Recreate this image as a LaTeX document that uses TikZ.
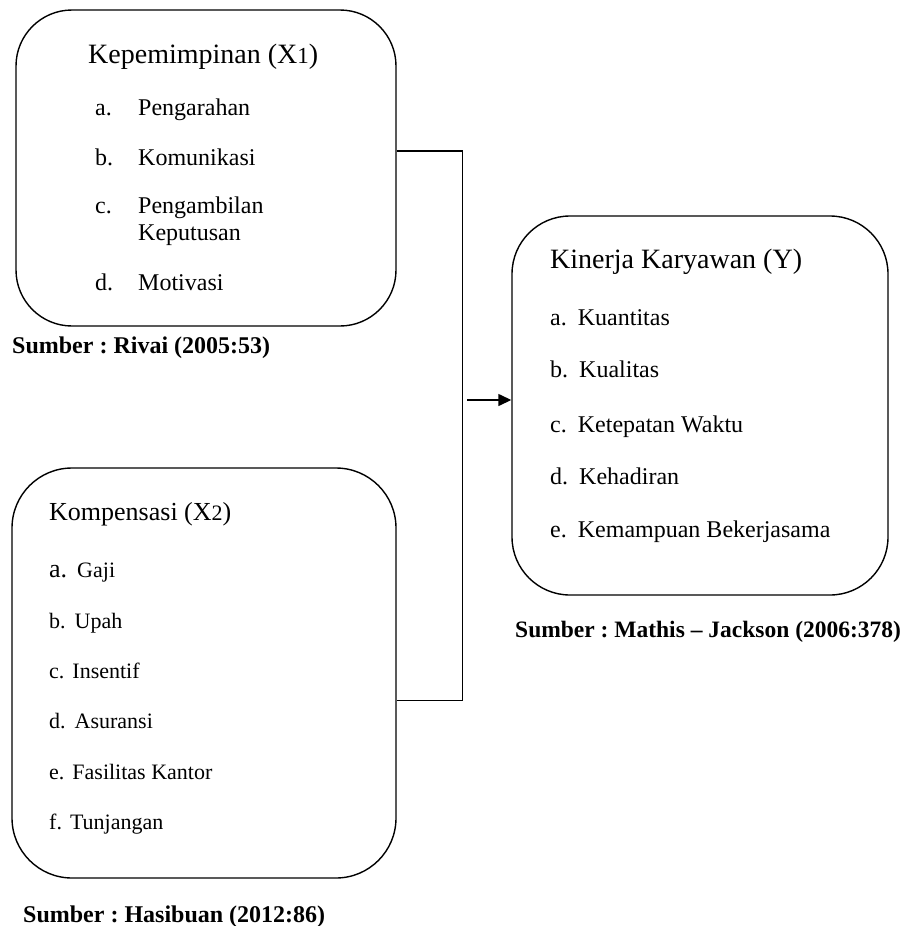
\documentclass[tikz,border=0pt]{standalone}
\usepackage{fontspec}
\setmainfont{Liberation Serif}
\usetikzlibrary{arrows.meta}
\newcommand{\fsz}[1]{\fontsize{#1}{#1}\selectfont}
\frenchspacing
\begin{document}
\begin{tikzpicture}[x=1pt,y=-1pt,
  boxst/.style={draw, line width=1.4pt, rounded corners=#1, inner sep=0pt},
  txt/.style={anchor=base west, inner sep=0pt, font=\fsz{24}},
  ttl/.style={anchor=base west, inner sep=0pt, font=\fsz{28}},
  src/.style={anchor=base west, inner sep=0pt, font=\fsz{24}\bfseries},
  conn/.style={line width=1.4pt}]
\useasboundingbox (0,0) rectangle (905,926);
% boxes
\node[boxst=56pt, minimum width=380pt, minimum height=316pt] (b1) at (206,168) {};
\node[boxst=60pt, minimum width=384pt, minimum height=410pt] (b2) at (204,673) {};
\node[boxst=58pt, minimum width=376pt, minimum height=379pt] (b3) at (700,405.5) {};
% box 1 texts
\node[ttl] (t1) at (88,63) {Kepemimpinan (X{\fsz{23}1})};
\node[txt] (l1a) at (95,115) {a.};
\node[txt] (i1a) at (138,115) {Pengarahan};
\node[txt] (l1b) at (95,165.5) {b.};
\node[txt] (i1b) at (138,165.5) {Komunikasi};
\node[txt] (l1c) at (95,213) {c.};
\node[txt] (i1c) at (138,213) {Pengambilan};
\node[txt] (i1c2) at (138,240.5) {Keputusan};
\node[txt] (l1d) at (95,290) {d.};
\node[txt] (i1d) at (138,290) {Motivasi};
\node[src] (s1) at (12,353) {Sumber : Rivai (2005:53)};
% box 2 texts
\node[ttl, font=\fsz{26}] (t2) at (49,520) {Kompensasi (X{\fsz{22}2})};
\node[txt, font=\fsz{22}] (i2a) at (49,577) {{\fsz{26}a.}\hspace{10pt}Gaji};
\node[txt, font=\fsz{22}] (i2b) at (49,628) {b.\hspace{9pt}Upah};
\node[txt, font=\fsz{22}] (i2c) at (49,678) {c.\hspace{8pt}Insentif};
\node[txt, font=\fsz{22}] (i2d) at (49,728) {d.\hspace{9pt}Asuransi};
\node[txt, font=\fsz{22}] (i2e) at (49,779) {e.\hspace{8pt}Fasilitas Kantor};
\node[txt, font=\fsz{22}] (i2f) at (49,829) {f.\hspace{8pt}Tunjangan};
\node[src] (s2) at (23,922) {Sumber : Hasibuan (2012:86)};
% box 3 texts
\node[ttl] (t3) at (550,268) {Kinerja Karyawan (Y)};
\node[txt] (i3a) at (550,325) {a.\hspace{11pt}Kuantitas};
\node[txt] (i3b) at (550,377) {b.\hspace{11pt}Kualitas};
\node[txt] (i3c) at (550,432) {c.\hspace{11pt}Ketepatan Waktu};
\node[txt] (i3d) at (550,484) {d.\hspace{11pt}Kehadiran};
\node[txt] (i3e) at (550,537) {e.\hspace{11pt}Kemampuan Bekerjasama};
\node[src, font=\fsz{23.5}\bfseries] (s3) at (515,637) {Sumber : Mathis -- Jackson (2006:378)};
% connectors
\coordinate (j1) at (462.7,151);
\coordinate (j2) at (462.7,700.7);
\coordinate (a0) at (467,400);
\draw[conn] (b1.east |- j1) -- (j1) -- (j2) -- (b2.east |- j2);
\draw[conn, -{Triangle[length=13pt, width=12pt]}] (a0) -- (b3.west |- a0);
\end{tikzpicture}
\end{document}
